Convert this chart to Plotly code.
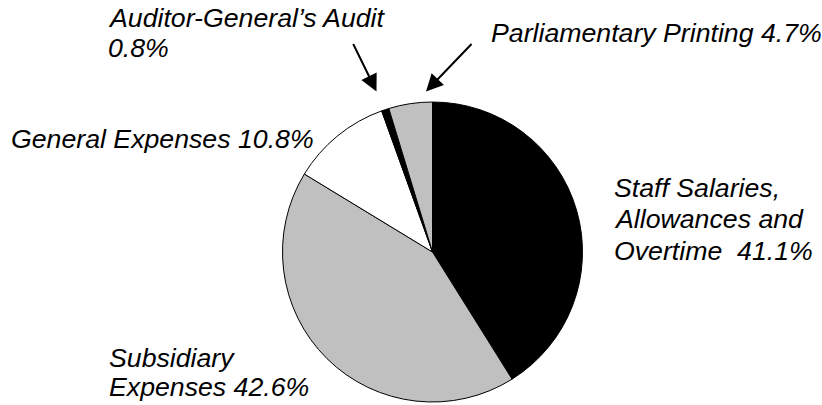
import plotly.graph_objects as go

# Expenditure breakdown (percent of total), clockwise from 12 o'clock
categories = [
    "Staff Salaries, Allowances and Overtime",
    "Subsidiary Expenses",
    "General Expenses",
    "Auditor-General’s Audit",
    "Parliamentary Printing",
]
shares = [41.1, 42.6, 10.8, 0.8, 4.7]
slice_colors = ["#000000", "#C0C0C0", "#FFFFFF", "#000000", "#C0C0C0"]

W, H = 822, 405
FONT = "Liberation Sans, Arial, sans-serif"
FS = 26.7


def pct(i):
    return f"{shares[i]:.1f}%"


def px(x):
    return x / W


def py(y):
    return 1 - y / H


fig = go.Figure(
    go.Pie(
        labels=categories,
        values=shares,
        sort=False,
        direction="clockwise",
        rotation=0,
        marker=dict(colors=slice_colors, line=dict(color="#000000", width=1)),
        textinfo="none",
        hoverinfo="label+percent",
        showlegend=False,
        domain=dict(x=[282.5 / W, 582.5 / W], y=[3 / H, 303 / H]),
    )
)

# Label lines: (text, left x, vertical centre) in pixels
label_lines = [
    ("Auditor-General’s Audit", 106, 18),
    (pct(3), 106, 48),
    ("Parliamentary Printing " + pct(4), 489, 33),
    ("General Expenses " + pct(2), 9, 139),
    ("Staff Salaries,", 612, 188),
    ("Allowances and", 612, 219),
    ("Overtime\u00a0 " + pct(0), 612, 251),
    ("Subsidiary", 107, 358),
    ("Expenses " + pct(1), 107, 387),
]

annotations = []
for text, x, y in label_lines:
    annotations.append(
        dict(
            text=f"<i>{text}</i>",
            x=px(x), y=py(y), xref="paper", yref="paper",
            xanchor="left", yanchor="middle",
            showarrow=False,
            font=dict(family=FONT, size=FS, color="#000000"),
        )
    )

# Pointer arrows for the two thin slices: tip position and tail offset (px)
arrows = [
    (376.5, 91.5, -24, -49),
    (426.0, 91.5, 47, -49),
]
for x, y, ax, ay in arrows:
    annotations.append(
        dict(
            text="", x=px(x), y=py(y), xref="paper", yref="paper",
            showarrow=True, ax=ax, ay=ay,
            arrowhead=2, arrowsize=1.7, arrowwidth=2, arrowcolor="#000000",
        )
    )

fig.update_layout(
    width=W, height=H,
    margin=dict(l=0, r=0, t=0, b=0),
    paper_bgcolor="#FFFFFF",
    plot_bgcolor="#FFFFFF",
    annotations=annotations,
    font=dict(family=FONT),
)

fig.write_html("out.html")
